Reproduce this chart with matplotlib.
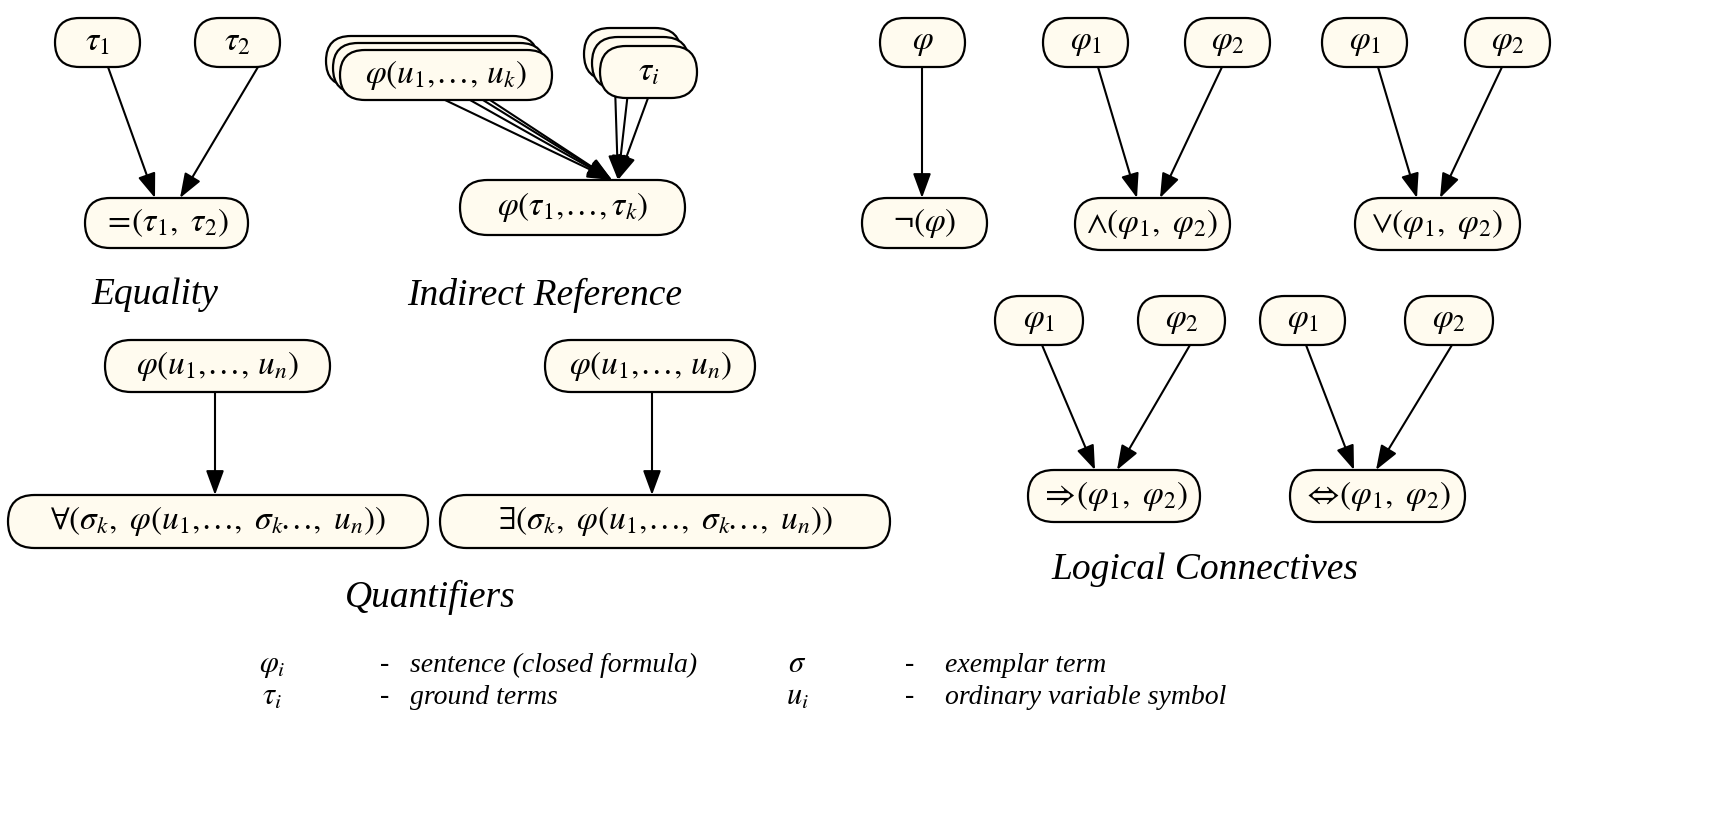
import matplotlib
matplotlib.use("Agg")
import matplotlib.pyplot as plt
from matplotlib.patches import FancyBboxPatch

plt.rcParams['mathtext.fontset'] = 'stix'
plt.rcParams['font.family'] = ['Liberation Serif', 'DejaVu Serif']

FILL = '#fffbef'
# nodes: label, x0, x1, y0, y1
nodes = [
    (r'$\tau_1$', 55, 140, 18, 67),
    (r'$\tau_2$', 195, 280, 18, 67),
    (r'$=\!(\tau_1,\ \tau_2)$', 85, 248, 198, 248),
    (r'$\tau_i$', 600, 697, 46, 98),
    (r'$\varphi(\tau_1,\!\ldots,\tau_k)$', 460, 685, 180, 235),
    (r'$\varphi(u_1,\!\ldots,\,u_n)$', 105, 330, 340, 392),
    (r'$\forall(\sigma_k,\ \varphi(u_1,\!\ldots,\ \sigma_k\!\ldots,\ u_n))$', 8, 428, 495, 548),
    (r'$\varphi(u_1,\!\ldots,\,u_n)$', 545, 755, 340, 392),
    (r'$\exists(\sigma_k,\ \varphi(u_1,\!\ldots,\ \sigma_k\!\ldots,\ u_n))$', 440, 890, 495, 548),
    (r'$\varphi$', 880, 965, 18, 67),
    (r'$\neg(\varphi)$', 862, 987, 198, 248),
    (r'$\varphi_1$', 1043, 1128, 18, 67),
    (r'$\varphi_2$', 1185, 1270, 18, 67),
    (r'$\wedge(\varphi_1,\ \varphi_2)$', 1075, 1230, 198, 250),
    (r'$\varphi_1$', 1322, 1407, 18, 67),
    (r'$\varphi_2$', 1465, 1550, 18, 67),
    (r'$\vee(\varphi_1,\ \varphi_2)$', 1355, 1520, 198, 250),
    (r'$\varphi_1$', 995, 1083, 296, 345),
    (r'$\varphi_2$', 1138, 1225, 296, 345),
    (r'$\Rightarrow\!(\varphi_1,\ \varphi_2)$', 1028, 1200, 470, 522),
    (r'$\varphi_1$', 1260, 1345, 296, 345),
    (r'$\varphi_2$', 1405, 1493, 296, 345),
    (r'$\Leftrightarrow\!(\varphi_1,\ \varphi_2)$', 1290, 1465, 470, 522),
]
edges = [
    ((108, 67), (155, 198)), ((258, 67), (180, 198)),
    ((445, 100), (612, 180)), ((470, 100), (612, 180)), ((490, 100), (612, 180)),
    ((470, 92), (612, 180)),
    ((648, 98), (618, 180)), ((628, 92), (618, 180)), ((615, 86), (618, 180)),
    ((215, 392), (215, 495)), ((652, 392), (652, 495)),
    ((922, 67), (922, 198)),
    ((1098, 67), (1137, 198)), ((1222, 67), (1160, 198)),
    ((1378, 67), (1417, 198)), ((1502, 67), (1440, 198)),
    ((1042, 345), (1095, 470)), ((1190, 345), (1117, 470)),
    ((1306, 345), (1354, 470)), ((1452, 345), (1376, 470)),
]
labels = [('Equality', 155, 295), ('Indirect Reference', 545, 295),
          ('Quantifiers', 430, 597), ('Logical Connectives', 1205, 570)]
legend = [
    (r'$\varphi_i$', 272, 665, 'sentence (closed formula)', 410),
    (r'$\tau_i$', 272, 697, 'ground terms', 410),
    (r'$\sigma$', 797, 665, 'exemplar term', 945),
    (r'$u_i$', 797, 697, 'ordinary variable symbol', 945),
]

fig = plt.figure(figsize=(17.36, 8.18), dpi=100)
ax = fig.add_axes([0, 0, 1, 1])
ax.set_xlim(0, 1736); ax.set_ylim(818, 0); ax.axis('off')

def box(x0, x1, y0, y1, label=None):
    h = y1 - y0
    ax.add_patch(FancyBboxPatch((x0, y0), x1 - x0, h,
                 boxstyle=f"round,pad=0,rounding_size={h/2}",
                 fc=FILL, ec='black', lw=1.6, zorder=3))
    if label:
        ax.text((x0 + x1) / 2, (y0 + y1) / 2, label, ha='center', va='center',
                fontsize=24, zorder=4)

for k in (2, 1):
    box(340 - 7 * k, 552 - 7 * k, 50 - 7 * k, 100 - 7 * k)
box(340, 552, 50, 100, r'$\varphi(u_1,\!\ldots,\,u_k)$')
for k in (2, 1):
    box(600 - 8 * k, 697 - 8 * k, 46 - 9 * k, 98 - 9 * k)

for n in nodes:
    box(n[1], n[2], n[3], n[4], n[0])

for s, t in edges:
    ax.annotate('', xy=t, xytext=s, zorder=2,
                arrowprops=dict(arrowstyle='-|>,head_length=1.5,head_width=0.55',
                                color='black', lw=1.5, shrinkA=0, shrinkB=0))

for t, x, y in labels:
    ax.text(x, y, t, ha='center', va='center', fontsize=27, style='italic')

for sym, x, y, txt, tx in legend:
    ax.text(x, y, sym, ha='center', va='center', fontsize=22)
    ax.text(x + 113, y, '-', ha='center', va='center', fontsize=20)
    ax.text(tx, y, txt, ha='left', va='center', fontsize=20, style='italic')

fig.savefig('out.png', dpi=100, facecolor='white')
